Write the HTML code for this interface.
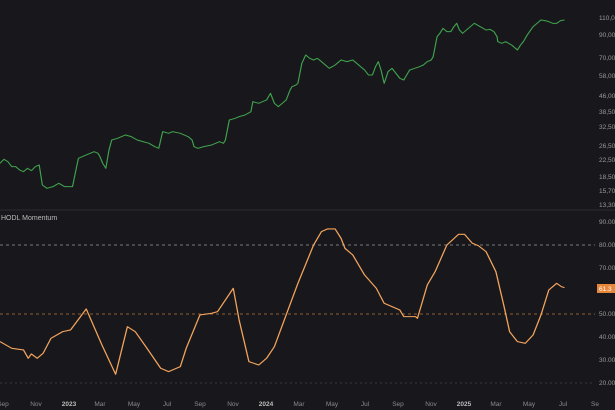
<!DOCTYPE html>
<html><head><style>
html,body{margin:0;padding:0;background:#18181c;}
svg{display:block;font-family:"Liberation Sans",sans-serif;}
</style></head><body>
<svg width="615" height="410" viewBox="0 0 615 410" xmlns="http://www.w3.org/2000/svg">
<rect width="615" height="410" fill="#18181c"/>
<line x1="0" y1="210" x2="615" y2="210" stroke="#2a2a30" stroke-width="1"/>
<line x1="0" y1="245" x2="595" y2="245" stroke="#9a9a9a" stroke-width="0.8" stroke-dasharray="3,3"/>
<line x1="0" y1="314" x2="595" y2="314" stroke="#b8753a" stroke-width="0.8" stroke-dasharray="3,3"/>
<line x1="0" y1="383" x2="595" y2="383" stroke="#444" stroke-width="0.8" stroke-dasharray="2,3"/>
<text x="1" y="220" fill="#bbb" font-size="7">HODL Momentum</text>
<g transform="scale(0.392,0.3333)">
<polyline fill="none" stroke="#3fa34d" stroke-width="3" stroke-linejoin="round" points="0,490 10,478 20,485 30,500 40,500 50,510 60,515 70,505 80,512 90,500 100,495 108,555 120,565 135,560 150,550 165,560 185,560 192,520 200,475 220,465 240,455 250,460 255,470 262,490 270,505 278,450 285,420 300,415 320,405 335,410 350,420 365,425 380,430 395,440 405,445 410,420 415,395 430,400 440,395 460,400 480,410 490,420 495,440 505,445 520,440 540,435 560,425 570,430 575,420 585,360 600,355 610,350 625,345 640,335 645,305 660,310 680,300 690,280 700,310 710,320 720,310 730,300 740,270 745,260 755,255 760,250 770,190 780,165 790,175 800,180 810,175 820,185 830,195 840,205 855,195 870,180 885,185 900,180 915,195 930,210 940,225 950,225 958,200 965,185 972,210 980,250 990,215 1000,205 1010,220 1020,235 1030,240 1040,220 1045,210 1058,205 1070,200 1080,195 1090,185 1100,180 1105,170 1115,110 1122,100 1130,85 1140,95 1150,95 1158,80 1165,70 1172,90 1180,100 1195,85 1210,70 1225,80 1240,90 1250,88 1260,95 1268,110 1270,125 1280,130 1290,125 1305,135 1320,150 1328,135 1335,125 1345,105 1360,80 1370,70 1380,60 1390,62 1400,65 1410,70 1420,70 1430,62 1440,60"/>
<polyline fill="none" stroke="#f4a45c" stroke-width="3.3" stroke-linejoin="round" transform="translate(0,615)" points="0,410 30,430 60,435 72,460 80,447 95,460 110,445 130,400 160,380 180,375 220,312 260,420 295,508 325,365 345,380 375,430 410,490 430,500 460,485 475,430 510,330 540,325 555,320 595,250 610,345 635,470 660,480 680,460 700,425 730,330 760,235 800,120 820,80 835,72 855,72 870,100 880,130 900,150 930,210 960,250 980,295 1000,305 1020,315 1030,335 1060,335 1065,340 1090,240 1110,200 1140,120 1170,88 1185,88 1205,115 1220,122 1240,140 1265,200 1285,300 1300,380 1320,410 1340,415 1360,390 1380,330 1400,255 1420,235 1432,245 1440,248"/>
</g>
<g fill="#9a9a9a" font-size="6.5">
<text x="599" y="20">110,0</text><text x="599" y="37">90,00</text><text x="599" y="60">70,00</text><text x="599" y="78">58,00</text><text x="599" y="98">46,00</text><text x="599" y="114">38,50</text><text x="599" y="129">32,50</text><text x="599" y="148">26,50</text><text x="599" y="162">22,50</text><text x="599" y="179">18,50</text><text x="599" y="193">15,70</text><text x="599" y="207">13,30</text>
<text x="599" y="224">90.00</text><text x="599" y="247">80.00</text><text x="599" y="270">70.00</text><text x="599" y="316">50.00</text><text x="599" y="339">40.00</text><text x="599" y="362">30.00</text><text x="599" y="385">20.00</text>
</g>
<rect x="597" y="284" width="18" height="9" fill="#e8863a"/>
<text x="599" y="291" fill="#fff" font-size="6.5">61.3</text>
<g fill="#8a8a8a" font-size="6.5" text-anchor="middle">
<text x="3" y="406">Sep</text><text x="36" y="406">Nov</text><text x="69" y="406" font-weight="bold" fill="#bbb">2023</text><text x="100" y="406">Mar</text><text x="134" y="406">May</text><text x="167" y="406">Jul</text><text x="200" y="406">Sep</text><text x="233" y="406">Nov</text><text x="266" y="406" font-weight="bold" fill="#bbb">2024</text><text x="299" y="406">Mar</text><text x="332" y="406">May</text><text x="365" y="406">Jul</text><text x="398" y="406">Sep</text><text x="431" y="406">Nov</text><text x="464" y="406" font-weight="bold" fill="#bbb">2025</text><text x="496" y="406">Mar</text><text x="529" y="406">May</text><text x="563" y="406">Jul</text><text x="595" y="406">Se</text>
</g>
</svg>
</body></html>
